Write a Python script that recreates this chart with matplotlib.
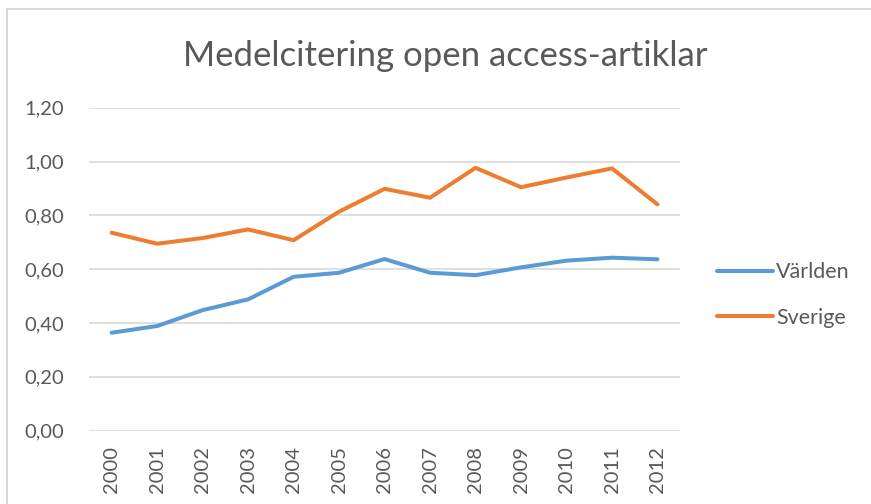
import matplotlib
matplotlib.use('Agg')
import matplotlib.pyplot as plt
from matplotlib.ticker import FuncFormatter
from matplotlib.lines import Line2D

years = ['2000', '2001', '2002', '2003', '2004', '2005', '2006',
         '2007', '2008', '2009', '2010', '2011', '2012']
varlden = [0.364, 0.389, 0.448, 0.488, 0.572, 0.587, 0.638,
           0.587, 0.578, 0.607, 0.632, 0.643, 0.637]
sverige = [0.736, 0.695, 0.716, 0.748, 0.708, 0.814, 0.899,
           0.866, 0.977, 0.905, 0.941, 0.975, 0.841]
yticks = [0.0, 0.2, 0.4, 0.6, 0.8, 1.0, 1.2]

plt.rcParams['font.family'] = ['Lato', 'DejaVu Sans']
text_col = '#595959'

fig = plt.figure(figsize=(8.71, 5.04), dpi=100)
ax = fig.add_axes([0.102, 0.1455, 0.679, 0.6405])

x = list(range(len(years)))
ax.plot(x, varlden, color='#5B9BD5', lw=2.9, solid_capstyle='round', label='Världen')
ax.plot(x, sverige, color='#ED7D31', lw=2.9, solid_capstyle='round', label='Sverige')

ax.set_xlim(-0.5, len(years) - 0.5)
ax.set_ylim(0, 1.2)
ax.set_yticks(yticks)
ax.yaxis.set_major_formatter(FuncFormatter(lambda v, p: '{:.2f}'.format(v).replace('.', ',')))
ax.set_xticks(x)
ax.set_xticklabels(years, rotation=90)
ax.tick_params(length=0, colors=text_col, labelsize=14)
ax.tick_params(axis='y', pad=18, labelsize=14.5)
ax.tick_params(axis='x', pad=11, labelsize=14.5)
ax.grid(axis='y', color='#D9D9D9', lw=1.2)
ax.set_axisbelow(True)
for s in ax.spines.values():
    s.set_visible(False)

fig.text(0.511, 0.869, 'Medelcitering open access-artiklar', ha='center', va='baseline',
         fontsize=25, color=text_col)

leg = ax.legend(loc='center left', bbox_to_anchor=(1.03, 0.42), frameon=False,
                fontsize=15.5, handlelength=2.6, labelspacing=1.2, handletextpad=0.12)
for t in leg.get_texts():
    t.set_color(text_col)

# frame edges (only left and top visible)
fig.add_artist(Line2D([0.0075, 0.0075], [0, 0.982], transform=fig.transFigure,
                      color='#D9D9D9', lw=1.5))
fig.add_artist(Line2D([0.0075, 1], [0.982, 0.982], transform=fig.transFigure,
                      color='#D9D9D9', lw=1.5))

fig.savefig('out.png', dpi=100)
